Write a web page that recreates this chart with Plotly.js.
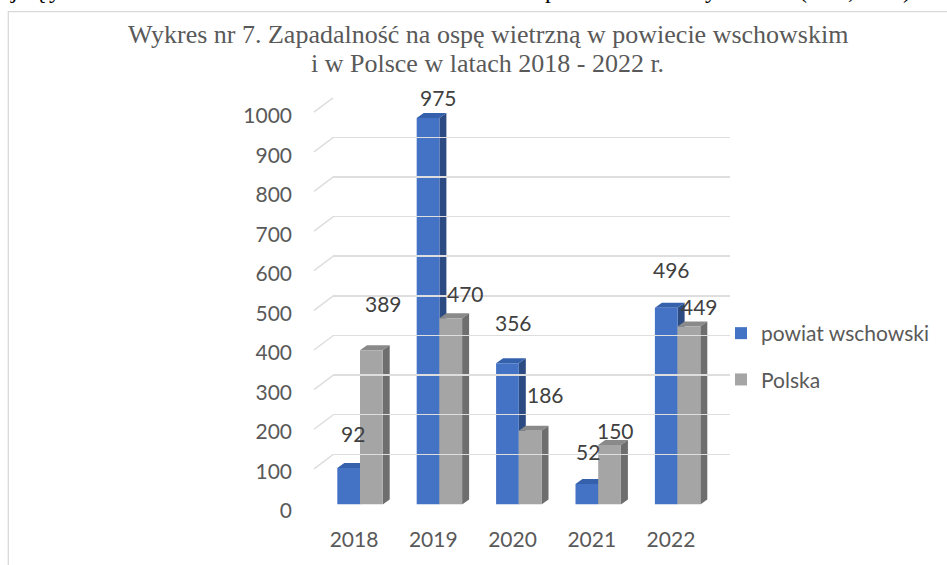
<!DOCTYPE html>
<html><head><meta charset="utf-8">
<script src="https://cdn.plot.ly/plotly-3.0.1.min.js"></script>
<style>html,body{margin:0;padding:0;background:#fff}</style>
</head><body><div id="chart" style="width:947px;height:565px"></div>
<script>
// ---- data ----
const years = ['2018', '2019', '2020', '2021', '2022'];
const powiat = [92, 975, 356, 52, 496];
const polska = [389, 470, 186, 150, 449];
const seriesNames = ['powiat wschowski', 'Polska'];
const yTicks = [0, 100, 200, 300, 400, 500, 600, 700, 800, 900, 1000];
const titleLines = ['Wykres nr 7. Zapadalność na ospę wietrzną w powiecie wschowskim',
                    'i w Polsce w latach 2018 - 2022 r.'];

// ---- label placement tweaks (px, relative to top centre of each bar) ----
const lblPowiatDx = [4, 10, 6.5, 1, 5];
const lblPowiatDy = [35, 20, 41, 32, 38];
const lblPolskaDx = [12.6, 15, 15, 6, 11];
const lblPolskaDy = [47, 25, 36, 15, 20];

// ---- geometry (px) ----
const W = 947, H = 565;
const fx = p => p / W;
const fy = p => 1 - p / H;
const barX = [320.3, 717.3], barY = [504.5, 108];     // bar plane
const backX = [333.3, 730], backY = [494, 97.7];      // back wall
const frontX = [314.4, 710.6], frontY = [510.7, 116]; // label plane
const bargap = 0.428;
const barW = (1 - bargap) / 2;
const catPx = (barX[1] - barX[0]) / years.length;
const valPx = (barY[0] - barY[1]) / 1000;
const depthX = 7 / catPx, depthY = 5 / valPx;

const COLORS = {
  blue: '#4472c4', blueTop: '#3560ab', blueSide: '#2b4b82',
  grey: '#a5a5a5', greyTop: '#8a8a8a', greySide: '#6e6e6e',
  grid: '#dedede', text: '#595959', label: '#404040'
};
const FONT = 'Lato, "Open Sans", sans-serif';
const SERIF = '"Liberation Serif", "Times New Roman", serif';

const xNum = years.map(Number);

const traces = [
  {type: 'bar', x: xNum, y: powiat, name: seriesNames[0], legendgroup: 'a',
   marker: {color: COLORS.blue}, xaxis: 'x', yaxis: 'y', hoverinfo: 'skip'},
  {type: 'bar', x: xNum, y: polska, name: seriesNames[1], legendgroup: 'b',
   marker: {color: COLORS.grey}, xaxis: 'x', yaxis: 'y', hoverinfo: 'skip'},
  {type: 'scatter', x: [], y: [], xaxis: 'x2', yaxis: 'y2', showlegend: false, hoverinfo: 'skip'},
  {type: 'scatter', x: [], y: [], xaxis: 'x3', yaxis: 'y3', showlegend: false, hoverinfo: 'skip'}
];

const poly = pts => 'M' + pts.map(p => p[0] + ',' + p[1]).join(' L') + ' Z';
const shapes = [];
// chart frame
shapes.push({type: 'rect', xref: 'paper', yref: 'paper', x0: fx(8.3), x1: 1.05, y0: -0.05, y1: fy(11.7),
  line: {color: '#d9d9d9', width: 1.3}, layer: 'below'});
// left wall diagonals
yTicks.forEach(v => shapes.push({type: 'line', xref: 'paper', xsizemode: 'pixel', xanchor: fx(backX[0]),
  x0: -19.3, x1: 0, yref: 'y2', ysizemode: 'pixel', yanchor: v, y0: -14.5, y1: 0,
  line: {color: COLORS.grid, width: 1.5}, layer: 'below'}));
// 3D faces of bars
xNum.forEach((c, i) => {
  const v = powiat[i], g = polska[i];
  const bl = c - barW, br = c, gl = c, gr = c + barW;
  const face = (path, col) => shapes.push({type: 'path', xref: 'x', yref: 'y', path: path,
    fillcolor: col, line: {width: 0}, layer: 'between'});
  face(poly([[br, 0], [br, v], [br + depthX, v + depthY], [br + depthX, depthY]]), COLORS.blueSide);
  face(poly([[bl, v], [br, v], [br + depthX, v + depthY], [bl + depthX, v + depthY]]), COLORS.blueTop);
  face(poly([[gl, g], [gr, g], [gr + depthX, g + depthY], [gl + depthX, g + depthY]]), COLORS.greyTop);
  face(poly([[gr, 0], [gr, g], [gr + depthX, g + depthY], [gr + depthX, depthY]]), COLORS.greySide);
});

const annotations = [];
xNum.forEach((c, i) => {
  annotations.push({xref: 'x', yref: 'y', x: c - barW / 2, y: powiat[i], text: String(powiat[i]),
    showarrow: false, xshift: lblPowiatDx[i], yshift: lblPowiatDy[i], yanchor: 'middle',
    font: {family: FONT, size: 21, color: COLORS.label}});
  annotations.push({xref: 'x', yref: 'y', x: c + barW / 2, y: polska[i], text: String(polska[i]),
    showarrow: false, xshift: lblPolskaDx[i], yshift: lblPolskaDy[i], yanchor: 'middle',
    font: {family: FONT, size: 21, color: COLORS.label}});
});
// title (two lines, placed individually)
annotations.push({xref: 'paper', yref: 'paper', x: fx(487.5), y: fy(35), yanchor: 'middle', xanchor: 'center',
  showarrow: false, text: titleLines[0], font: {family: SERIF, size: 26, color: COLORS.text}});
annotations.push({xref: 'paper', yref: 'paper', x: fx(487.5), y: fy(63), yanchor: 'middle', xanchor: 'center',
  showarrow: false, text: titleLines[1], font: {family: SERIF, size: 26, color: COLORS.text}});
// partially visible line of the surrounding document text
const topFrag = [['j', 8], ['ą', 32], ['y', 47], ['p', 551], ['y', 719], ['(', 809], [',', 856], [')', 913]];
topFrag.forEach(f => annotations.push({xref: 'paper', yref: 'paper', x: fx(f[1]), y: 1, yanchor: 'middle',
  yshift: 10, showarrow: false, text: f[0], font: {family: SERIF, size: 24, color: '#000'}}));

const hidden = {showgrid: false, zeroline: false, showticklabels: false, showline: false, ticks: '', fixedrange: true};
const layout = {
  width: W, height: H,
  margin: {l: 0, r: 0, t: 0, b: 0},
  paper_bgcolor: '#fff', plot_bgcolor: 'rgba(0,0,0,0)',
  barmode: 'group', bargap: bargap, bargroupgap: 0,
  xaxis: Object.assign({}, hidden, {domain: [fx(barX[0]), fx(barX[1])], range: [2017.5, 2022.5], anchor: 'y'}),
  yaxis: Object.assign({}, hidden, {domain: [fy(barY[0]), fy(barY[1])], range: [0, 1000], anchor: 'x'}),
  xaxis2: Object.assign({}, hidden, {domain: [fx(backX[0]), fx(backX[1])], range: [0, 1], anchor: 'y2'}),
  yaxis2: Object.assign({}, hidden, {domain: [fy(backY[0]), fy(backY[1])], range: [0, 1000], anchor: 'x2',
    showgrid: true, gridcolor: COLORS.grid, gridwidth: 1.5, tickvals: yTicks}),
  xaxis3: Object.assign({}, hidden, {domain: [fx(frontX[0]), fx(frontX[1])], range: [2017.5, 2022.5],
    anchor: 'free', position: fy(525), showticklabels: true, tickvals: xNum, ticktext: years,
    tickfont: {family: FONT, size: 21, color: COLORS.text}}),
  yaxis3: Object.assign({}, hidden, {domain: [fy(frontY[0]), fy(frontY[1])], range: [0, 1000],
    anchor: 'free', position: fx(292), showticklabels: true, tickvals: yTicks,
    tickfont: {family: FONT, size: 21, color: COLORS.text}}),
  showlegend: true,
  legend: {x: fx(721), y: fy(313), xanchor: 'left', yanchor: 'top', traceorder: 'grouped', tracegroupgap: 16,
    font: {family: FONT, size: 21, color: COLORS.text}, bgcolor: 'rgba(0,0,0,0)'},
  shapes: shapes,
  annotations: annotations
};
Plotly.newPlot('chart', traces, layout, {staticPlot: true, displayModeBar: false});
</script></body></html>
